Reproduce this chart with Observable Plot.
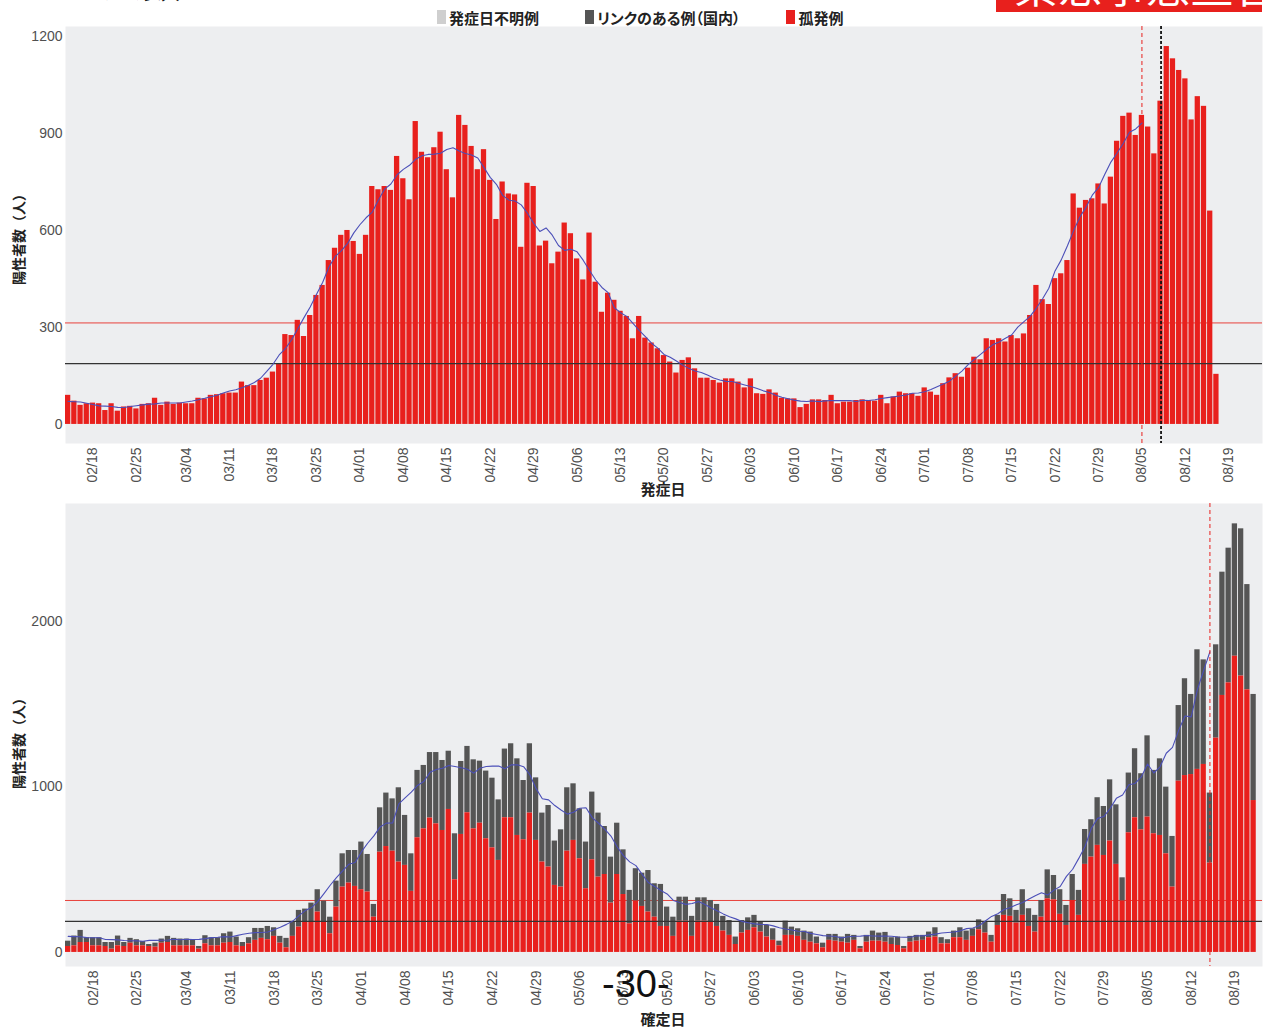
<!DOCTYPE html>
<html><head><meta charset="utf-8">
<script src="https://cdn.jsdelivr.net/npm/d3@7"></script>
<script src="https://cdn.jsdelivr.net/npm/@observablehq/plot@0.6"></script>
<style>
html,body{margin:0;padding:0;background:#fff;}
body{width:1266px;height:1031px;overflow:hidden;position:relative;font-family:"Noto Sans CJK JP","Liberation Sans",sans-serif;}
.abs{position:absolute;}
.ylab{font-size:14px;font-weight:bold;color:#222;white-space:nowrap;transform:translate(-50%,-50%) rotate(-90deg);}
.xlab{font-size:15px;font-weight:bold;color:#222;white-space:nowrap;transform:translate(-50%,-50%);}
.leg{display:flex;align-items:center;font-size:15px;font-weight:bold;color:#222;font-feature-settings:"palt";white-space:nowrap;}
.sw{display:inline-block;width:9px;height:14px;margin-right:3px;}
</style></head><body>
<div class="abs" style="left:62px;top:-41px;font-size:40px;font-weight:bold;color:#111;line-height:42px;">の人数</div>
<div class="abs" style="left:996px;top:-36px;width:266px;height:48px;overflow:hidden;background:#e8201d;"><div style="padding-left:18px;font-size:44px;line-height:40px;color:#fff;white-space:nowrap;">緊急事態宣言</div></div>
<div class="abs leg" style="left:437px;top:8px;height:18px;">
  <span class="sw" style="background:#cfcfcf"></span><span style="margin-right:46px">発症日不明例</span>
  <span class="sw" style="background:#555"></span><span style="margin-right:46px">リンクのある例（国内）</span>
  <span class="sw" style="background:#e8201d"></span><span>孤発例</span>
</div>
<div id="top" class="abs" style="left:0;top:0"></div>
<div id="bot" class="abs" style="left:0;top:500px"></div>
<div class="abs ylab" style="left:18px;top:236px">陽性者数（人）</div>
<div class="abs ylab" style="left:18px;top:740px">陽性者数（人）</div>
<div class="abs xlab" style="left:663px;top:488px">発症日</div>
<div class="abs xlab" style="left:663px;top:1018px">確定日</div>
<div class="abs" style="left:602px;top:964px;font-family:'Liberation Sans Narrow','Liberation Sans',sans-serif;font-size:38px;line-height:40px;color:#111;">-30-</div>
<script>
// ---- data ----
const startDate = "2020-02-14";
const tickLabels = ["02/18","02/25","03/04","03/11","03/18","03/25","04/01","04/08","04/15","04/22","04/29","05/06","05/13","05/20","05/27","06/03","06/10","06/17","06/24","07/01","07/08","07/15","07/22","07/29","08/05","08/12","08/19"];

// top panel: onset date, isolated cases (孤発例), 02/14 .. 08/17
const onsetIsolated = [
 90,72,59,64,66,64,43,64,41,54, 56,48,62,64,81,59,69,62,66,64, 64,81,79,90,92,95,97,97,131,120,
 120,136,143,162,188,278,275,322,272,337, 399,430,507,545,585,600,566,526,585,
 736,726,736,724,829,760,695,937,842,825, 856,904,788,701,956,925,860,788,850,755,
 634,750,713,710,548,746,736,552,567,497, 533,623,590,512,447,592,440,347,406,384,
 350,334,265,334,267,252,234,213,193,159, 198,
 206,172,143,143,136,128,141,141,131,113, 141,95,93,107,97,81,79,79,52,62,
 76,76,74,90,64,69,69,74,76,74, 72,90,64,85,100,95,95,87,113,100,
 90,126,144,157,146,174,208,200,265,
 260,265,255,275,265,280,337,430,386,371, 451,466,507,713,669,693,698,744,682,765,
 876,953,963,894,956,920,837,1000,1169,1131, 1095,1069,942,1014,984,660,155
];

// bottom panel: confirmation date, total (孤発例 + リンクのある例) and isolated, 02/14 .. 08/22
const confirmedTotal = [
 68,99,133,89,89,89,60,60,99,60, 85,77,66,48,56,81,97,85,81,81, 77,36,101,89,89,113,123,93,60,89,
 145,145,157,149,97,85,183,254,262,298, 379,310,213,431,596,616,616,667,592,
 290,874,963,928,995,828,596,1100,1130,1208, 1208,1160,1216,717,1154,1245,1164,1156,1096,1053,
 922,1229,1261,1170,1039,1261,1055,842,888,673, 741,995,1019,868,667,969,842,761,576,781,
 620,375,506,479,495,415,411,274,213,334, 334,
 218,330,330,314,290,218,193,93,193,209, 224,183,163,143,68,189,153,143,129,123,
 93,56,109,109,93,109,103,36,103,129, 117,121,89,93,36,97,103,103,123,149,
 89,77,129,149,129,143,197,183,
 103,224,350,324,254,379,264,224,314,499, 465,379,284,471,375,743,802,935,882,1043,
 892,451,1084,1231,1080,1309,1100,1170,999,701, 1492,1654,1559,1829,1768,963,1859,2298,2443,2590,
 2560,2223,1559
];
const confirmedIsolated = [
 36,40,60,60,40,40,36,20,40,36, 56,40,40,36,32,56,60,40,40,40, 40,20,52,40,40,56,60,40,36,52,
 73,85,77,97,56,28,97,153,183,183, 244,183,113,274,395,419,399,379,365,
 213,606,640,612,546,526,369,693,747,812, 777,737,864,439,713,844,747,781,687,632,
 556,814,814,707,681,842,677,546,516,405, 395,612,677,566,385,560,455,471,298,471,
 350,173,310,278,244,213,157,157,97,189, 189,
 97,189,189,185,157,129,103,48,117,133, 149,123,93,73,40,103,103,97,73,62,
 52,28,73,68,62,56,73,22,62,68, 68,62,48,42,22,62,68,73,89,93,
 52,52,89,89,73,97,137,117,
 62,163,224,218,177,224,157,123,213,324, 318,230,163,314,224,532,576,647,586,673,
 532,310,723,814,741,818,717,707,596,395, 1035,1069,1075,1106,1136,540,1295,1553,1629,1790,
 1670,1587,918
];

const thresholdRed = 314;
const thresholdBlack = 188;
const topRedDash = "08/05", topBlackDash = "08/08", topAvgEnd = "08/05";
const botRedDash = "08/15", botAvgEnd = "08/15";

// ---- build ----
const fmt = d3.utcFormat("%m/%d");
const t0 = new Date(startDate + "T00:00:00Z");
const dayLabel = i => fmt(d3.utcDay.offset(t0, i));
const topDomain = d3.range(193).map(dayLabel);
const botDomain = d3.range(192).map(dayLabel);
const topData = onsetIsolated.map((v, i) => ({date: dayLabel(i), i, value: v}));
const botData = confirmedTotal.map((v, i) => ({date: dayLabel(i), i, total: v, isolated: confirmedIsolated[i]}));
const topEndIdx = topDomain.indexOf(topAvgEnd);
const botEndIdx = botDomain.indexOf(botAvgEnd);

const RED = "#e8201d", GRAY = "#555555", BG = "#edeef0", BLUE = "#4b4fb8";
const common = {
  width: 1266,
  marginLeft: 65, marginRight: 4,
  style: {background: "transparent", fontFamily: "'Liberation Sans', Arial, sans-serif", fontSize: "14px", color: "#505050", overflow: "visible"}
};

const topPlot = Plot.plot({
  ...common,
  height: 500, marginTop: 26, marginBottom: 57,
  x: {type: "band", domain: topDomain, paddingInner: 0.15, paddingOuter: 0, ticks: tickLabels, tickRotate: -90, tickSize: 0, tickPadding: 4, label: null},
  y: {domain: [-59, 1231], ticks: [0, 300, 600, 900, 1200], tickFormat: d => String(d), tickSize: 0, tickPadding: 3, label: null},
  marks: [
    Plot.frame({fill: BG, stroke: null}),
    Plot.ruleY([thresholdRed], {stroke: "#e8413b", strokeWidth: 1}),
    Plot.barY(topData, {x: "date", y: "value", fill: RED}),
    Plot.ruleY([thresholdBlack], {stroke: "#333", strokeWidth: 1.3}),
    Plot.ruleX([topRedDash], {stroke: "#e8201d", strokeWidth: 1, strokeDasharray: "4,3"}),
    Plot.lineY(topData, Plot.filter(d => d.i <= topEndIdx, Plot.windowY({k: 7, anchor: "middle"}, {x: "date", y: "value", stroke: BLUE, strokeWidth: 1.1}))),
    Plot.ruleX([topBlackDash], {stroke: "#111", strokeWidth: 1.8, strokeDasharray: "3,2", dx: 0.5})
  ]
});
document.getElementById("top").appendChild(topPlot);

const botPlot = Plot.plot({
  ...common,
  height: 531, marginTop: 3, marginBottom: 65,
  x: {type: "band", domain: botDomain, paddingInner: 0.15, paddingOuter: 0, ticks: tickLabels, tickRotate: -90, tickSize: 0, tickPadding: 4, label: null},
  y: {domain: [-85, 2713], ticks: [0, 1000, 2000], tickFormat: d => String(d), tickSize: 0, tickPadding: 3, label: null},
  marks: [
    Plot.frame({fill: BG, stroke: null}),
    Plot.ruleY([thresholdRed], {stroke: "#e8413b", strokeWidth: 1}),
    Plot.barY(botData, {x: "date", y1: "isolated", y2: "total", fill: GRAY}),
    Plot.barY(botData, {x: "date", y: "isolated", fill: RED}),
    Plot.ruleY([thresholdBlack], {stroke: "#333", strokeWidth: 1.3}),
    Plot.lineY(botData, Plot.filter(d => d.i <= botEndIdx, Plot.windowY({k: 7, anchor: "middle"}, {x: "date", y: "total", stroke: BLUE, strokeWidth: 1.1}))),
    Plot.ruleX([botRedDash], {stroke: "#e8201d", strokeWidth: 1, strokeDasharray: "4,3"})
  ]
});
document.getElementById("bot").appendChild(botPlot);
</script>
</body></html>
